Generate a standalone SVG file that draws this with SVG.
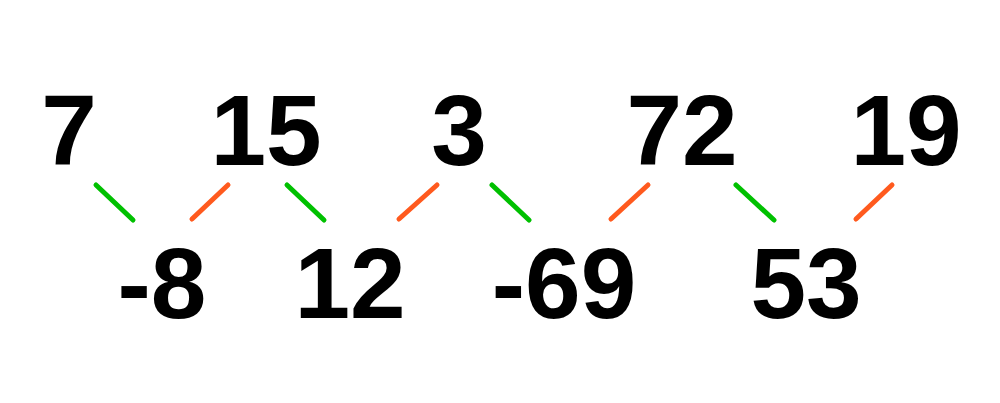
<svg xmlns="http://www.w3.org/2000/svg" width="1000" height="403" viewBox="0 0 1000 403">
<style>
.n{font-family:"Liberation Sans",Arial,Helvetica,sans-serif;font-weight:bold;font-size:100px;fill:#000;text-anchor:middle}
.g{stroke:#00c000;stroke-width:5;stroke-linecap:round;fill:none}
.o{stroke:#ff5a1e;stroke-width:5;stroke-linecap:round;fill:none}
</style>
<rect width="1000" height="403" fill="#fff"/>
<g id="top-7"><text class="n" x="69" y="165">7</text></g>
<g id="top-15"><text class="n" x="266" y="165">15</text></g>
<g id="top-3"><text class="n" x="459" y="165">3</text></g>
<g id="top-72"><text class="n" x="682" y="165">72</text></g>
<g id="top-19"><text class="n" x="906" y="165">19</text></g>
<g id="bot-m8"><text class="n" x="162" y="318">-8</text></g>
<g id="bot-12"><text class="n" x="350" y="318">12</text></g>
<g id="bot-m69"><text class="n" x="564" y="318">-69</text></g>
<g id="bot-53"><text class="n" x="806" y="318">53</text></g>
<g id="connectors">
<line class="g" x1="96" y1="185" x2="133" y2="220"/>
<line class="o" x1="228" y1="185" x2="192" y2="219"/>
<line class="g" x1="287" y1="185" x2="324" y2="220"/>
<line class="o" x1="437" y1="185" x2="399" y2="219"/>
<line class="g" x1="492" y1="185" x2="529" y2="220"/>
<line class="o" x1="648" y1="185" x2="611" y2="219"/>
<line class="g" x1="736" y1="185" x2="774" y2="220"/>
<line class="o" x1="892" y1="185" x2="856" y2="219"/>
</g>
</svg>
